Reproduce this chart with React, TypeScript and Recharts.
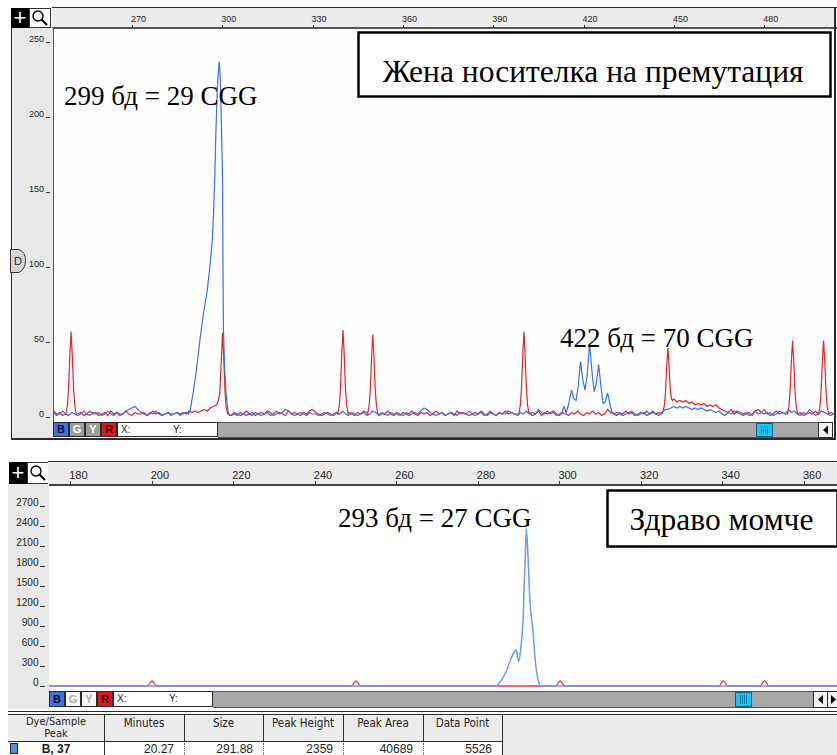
import { LineChart, Line, XAxis, YAxis } from 'recharts';

type Reading = [number, number]; // [size in bp, height in RFU]
type Point = { size: number; rfu: number };

// ---- upper run: carrier of a premutation ----
const upperFirstBp = 244; // baseline arrays hold one reading per bp from here
const upperRuler = [270, 300, 330, 360, 390, 420, 450, 480];
const upperHeights = [0, 50, 100, 150, 200, 250];

const upperBlueNoise = [
  3, 1, 2, 4, 2, 1, 3, 2, 1, 2,
  4, 2, 1, 3, 2, 3, 1, 2, 4, 2,
  1, 3, 2, 2, 4, 5, 6, 7, 5, 3,
  2, 1, 3, 2, 4, 2, 1, 2, 3, 1,
  2, 3, 1, 2, 3, 2, 2, 2, 2, 2,
  2, 2, 2, 2, 2, 2, 2, 2, 2, 1,
  2, 1, 3, 2, 1, 2, 1, 3, 2, 1,
  2, 3, 1, 2, 4, 2, 3, 5, 4, 2,
  1, 2, 3, 2, 1, 3, 2, 2, 1, 2,
  3, 2, 1, 2, 3, 2, 4, 2, 1, 3,
  2, 1, 2, 3, 1, 2, 4, 3, 1, 2,
  2, 1, 3, 2, 2, 1, 3, 2, 1, 2,
  3, 2, 4, 6, 5, 3, 2, 1, 2, 3,
  1, 2, 3, 2, 1, 3, 2, 2, 4, 2,
  1, 2, 3, 1, 2, 4, 2, 1, 3, 2,
  2, 4, 3, 2, 1, 3, 2, 4, 2, 3,
  2, 5, 3, 2, 4, 2, 3, 1, 2, 2,
  2, 2, 2, 2, 2, 2, 2, 2, 2, 2,
  2, 2, 2, 2, 2, 2, 2, 3, 2, 1,
  2, 3, 4, 2, 1, 2, 3, 1, 2, 4,
  2, 1, 3, 5, 5, 6, 7, 6, 7, 6,
  7, 6, 5, 6, 5, 6, 5, 4, 5, 4,
  3, 4, 2, 1, 3, 2, 4, 3, 2, 1,
  2, 3, 1, 4, 2, 3, 5, 2, 3, 1,
  2, 4, 3, 2, 5, 3, 4, 2, 1, 3,
  2, 5, 3, 1, 2, 4, 3, 2, 1, 2,
];

const upperRedNoise = [
  4, 2, 3, 1, 2, 2, 2, 2, 2, 3,
  1, 2, 4, 2, 3, 1, 2, 3, 1, 4,
  2, 3, 1, 2, 4, 2, 1, 3, 2, 2,
  3, 1, 2, 4, 2, 3, 1, 2, 3, 2,
  2, 3, 2, 3, 2, 4, 3, 4, 3, 4,
  5, 4, 6, 7, 2, 2, 2, 2, 2, 1,
  3, 2, 1, 2, 4, 2, 3, 1, 2, 3,
  2, 4, 3, 1, 2, 3, 2, 1, 4, 2,
  3, 2, 1, 3, 2, 4, 5, 3, 2, 1,
  2, 3, 2, 1, 3, 2, 2, 2, 3, 2,
  1, 3, 2, 4, 3, 2, 2, 2, 1, 3,
  2, 4, 2, 1, 3, 2, 1, 3, 2, 4,
  2, 1, 3, 2, 3, 1, 2, 4, 2, 3,
  1, 2, 3, 1, 4, 2, 3, 2, 1, 2,
  3, 2, 4, 2, 1, 3, 2, 1, 3, 2,
  4, 2, 3, 2, 2, 2, 2, 2, 3, 1,
  2, 4, 1, 3, 2, 3, 4, 2, 1, 3,
  2, 1, 3, 2, 4, 2, 1, 3, 2, 4,
  2, 3, 1, 2, 5, 3, 2, 1, 3, 2,
  4, 2, 3, 1, 2, 3, 2, 4, 2, 3,
  2, 3, 2, 2, 2, 11, 12, 10, 11, 10,
  11, 9, 10, 8, 9, 8, 9, 7, 8, 7,
  8, 6, 5, 4, 3, 5, 2, 4, 3, 2,
  3, 1, 2, 4, 5, 3, 2, 3, 1, 2,
  4, 2, 3, 2, 2, 2, 2, 2, 3, 1,
  2, 3, 2, 4, 2, 2, 2, 2, 3, 2,
];

// 299 bp allele (29 CGG)
const upperBlue299: Reading[] = [
  [288.8, 2], [289.4, 5], [290.4, 17], [291.2, 28], [291.7, 36], [292.7, 53], [293.7, 68],
  [295.0, 84], [296.0, 102], [296.7, 118], [297.1, 135], [297.5, 158], [297.9, 190],
  [298.4, 220], [298.8, 232], [299.0, 237], [299.3, 228], [299.7, 198], [300.1, 160],
  [300.25, 100], [300.4, 58], [300.8, 32], [301.3, 15], [301.9, 4], [302.4, 1],
];

// 422 bp allele (70 CGG), stutter every 3 bp
const upperBlue422: Reading[] = [
  [412.0, 2], [412.8, 3], [413.5, 7], [414.2, 3], [415.0, 8], [416.0, 18], [416.8, 12],
  [417.5, 11], [418.2, 20], [419.0, 37], [419.8, 24], [420.5, 18], [421.2, 28], [422.0, 49],
  [422.8, 30], [423.5, 17], [424.2, 22], [425.0, 35], [425.8, 20], [426.5, 9], [427.2, 10],
  [428.0, 16], [428.8, 8], [429.5, 3], [430.3, 2],
];

// ROX size standard
const upperRed250: Reading[] = [
  [248.1, 2], [248.6, 8], [249.0, 20], [249.4, 41], [249.8, 57], [250.2, 41], [250.6, 20], [251.0, 8], [251.5, 2],
];
const upperRed300: Reading[] = [
  [298.0, 8], [298.6, 10], [299.2, 16], [299.7, 38], [300.1, 56], [300.5, 40], [300.9, 18], [301.3, 7], [301.8, 2],
];
const upperRed340: Reading[] = [
  [338.4, 2], [338.9, 8], [339.3, 20], [339.7, 42], [340.1, 58], [340.5, 42], [340.9, 20], [341.3, 8], [341.8, 2],
];
const upperRed350: Reading[] = [
  [348.3, 2], [348.8, 8], [349.2, 19], [349.6, 40], [350.0, 55], [350.4, 40], [350.8, 19], [351.2, 8], [351.7, 2],
];
const upperRed400: Reading[] = [
  [398.5, 2], [399.0, 8], [399.4, 20], [399.8, 41], [400.2, 57], [400.6, 41], [401.0, 20], [401.4, 8], [401.9, 2],
];
const upperRed450: Reading[] = [
  [446.3, 3], [446.8, 7], [447.2, 16], [447.6, 33], [448.0, 46], [448.4, 34], [448.8, 18], [449.2, 12], [449.6, 11],
];
const upperRed490: Reading[] = [
  [487.7, 2], [488.2, 7], [488.6, 18], [489.0, 37], [489.4, 51], [489.8, 37], [490.2, 18], [490.6, 7], [491.1, 2],
];
const upperRed500: Reading[] = [
  [498.0, 2], [498.5, 7], [498.9, 18], [499.3, 37], [499.7, 51], [500.1, 37], [500.5, 18], [500.9, 7], [501.4, 2],
];

// ---- lower run: healthy boy ----
const lowerRuler = [180, 200, 220, 240, 260, 280, 300, 320, 340, 360];
const lowerHeights = [0, 300, 600, 900, 1200, 1500, 1800, 2100, 2400, 2700];
const lowerPeakSize = 291.88;
const lowerPeakHeight = 2359;

const lowerBlue: Reading[] = [
  [174.8, 0], [284.2, 0], [285.5, 65], [287.1, 240], [288.3, 435], [289.4, 540], [290.0, 365],
  [290.5, 540], [290.8, 740], [291.2, 1140], [291.35, 1490], [291.6, 1850],
  [lowerPeakSize, lowerPeakHeight], [292.3, 1950], [292.6, 1490], [292.8, 1245], [293.5, 840],
  [294.0, 435], [294.8, 90], [295.4, 0], [368.1, 0],
];

const lowerRed: Reading[] = [
  [174.8, 0], [199.1, 0], [199.5, 45], [200.05, 75], [200.6, 45], [201.0, 0],
  [249.1, 0], [249.6, 45], [250.1, 75], [250.6, 45], [251.1, 0],
  [299.2, 0], [299.7, 45], [300.2, 75], [300.7, 45], [301.2, 0],
  [339.2, 0], [339.7, 45], [340.2, 75], [340.7, 45], [341.2, 0],
  [349.3, 0], [349.8, 45], [350.3, 75], [350.8, 45], [351.3, 0], [368.1, 0],
];

const tableHeads = ['Minutes', 'Size', 'Peak Height', 'Peak Area', 'Data Point'];
const tableRow = ['20.27', String(lowerPeakSize), String(lowerPeakHeight), '40689', '5526'];
const tableSample = 'B, 37';

function buildTrace(firstBp: number, noise: number[], peaks: Reading[][]): Point[] {
  const spans = peaks.map((p) => [p[0][0], p[p.length - 1][0]]);
  const pts: Point[] = [];
  noise.forEach((rfu, i) => {
    const size = firstBp + i;
    if (!spans.some(([a, b]) => size >= a && size <= b)) pts.push({ size, rfu });
  });
  peaks.forEach((p) => p.forEach(([size, rfu]) => pts.push({ size, rfu })));
  return pts.sort((a, b) => a.size - b.size);
}

const toPoints = (r: Reading[]): Point[] => r.map(([size, rfu]) => ({ size, rfu }));

const upperBlue = buildTrace(upperFirstBp, upperBlueNoise, [upperBlue299, upperBlue422]);
const upperRed = buildTrace(upperFirstBp, upperRedNoise, [
  upperRed250, upperRed300, upperRed340, upperRed350, upperRed400, upperRed450, upperRed490, upperRed500,
]);

const uiFont = '"Liberation Sans", Arial, sans-serif';
const narrowFont = '"Liberation Sans Narrow", "DejaVu Sans Condensed", "Liberation Sans", sans-serif';
const serif = '"Liberation Serif", "Times New Roman", serif';
const frame = '#2b2b2b';
const panelGray = '#ececec';

const rulerTick = (labelY: number, m1: number, m2: number, fontSize: number) => (props: any) => {
  const { x, payload } = props;
  const px = Math.round(x) + 0.5;
  return (
    <g>
      <line x1={px} x2={px} y1={m1} y2={m2} stroke="#333" strokeWidth={1} />
      <text x={x - 1} y={labelY} fontSize={fontSize} fill="#222" fontFamily={uiFont}>
        {payload.value}
      </text>
    </g>
  );
};

const heightTick = (textRight: number, m1: number, m2: number, fontSize: number) => (props: any) => {
  const { y, payload } = props;
  return (
    <g>
      <text x={textRight} y={y} textAnchor="end" fontSize={fontSize} fill="#222" fontFamily={uiFont}>
        {payload.value}
      </text>
      <line x1={m1} x2={m2} y1={y + 0.5} y2={y + 0.5} stroke="#333" strokeWidth={1} />
    </g>
  );
};

function Box({ l, t, w, h, style }: { l: number; t: number; w: number; h: number; style?: any }) {
  return <div style={{ position: 'absolute', left: l, top: t, width: w, height: h, boxSizing: 'border-box', ...style }} />;
}

function ToolIcons({ l, t, h }: { l: number; t: number; h: number }) {
  return (
    <>
      <div
        style={{
          position: 'absolute', left: l, top: t, width: 18, height: h, background: '#000', color: '#fff',
          fontFamily: uiFont, fontSize: 22, lineHeight: `${h}px`, textAlign: 'center', fontWeight: 300,
        }}
      >
        +
      </div>
      <svg style={{ position: 'absolute', left: l + 18, top: t }} width={22} height={h}>
        <rect x={0.5} y={0.5} width={21} height={h - 1} fill="#fff" stroke="#333" />
        <circle cx={9} cy={h / 2 - 2} r={5} fill="none" stroke="#000" strokeWidth={1.4} />
        <line x1={12.5} y1={h / 2 + 1.5} x2={18} y2={h / 2 + 7} stroke="#000" strokeWidth={2} />
      </svg>
    </>
  );
}

function StatusBar(props: {
  l: number; t: number; h: number; field: number; scrollEnd: number; thumb: number; light: boolean; both: boolean;
}) {
  const { l, t, h, field, scrollEnd, thumb, light, both } = props;
  const btn = (label: string, i: number, bg: string, fg: string) => (
    <div
      key={label}
      style={{
        position: 'absolute', left: l + i * 16, top: t, width: 16, height: h, background: bg, color: fg,
        border: `1px solid ${frame}`, boxSizing: 'border-box', fontFamily: uiFont, fontWeight: 700,
        fontSize: 11, lineHeight: `${h - 2}px`, textAlign: 'center',
      }}
    >
      {label}
    </div>
  );
  const fieldL = l + 64;
  return (
    <>
      {btn('B', 0, '#3c74e4', '#0b0b30')}
      {btn('G', 1, light ? '#f6f6f6' : '#9d9d9d', light ? '#b0b0b0' : '#fff')}
      {btn('Y', 2, light ? '#f6f6f6' : '#9d9d9d', light ? '#b0b0b0' : '#fff')}
      {btn('R', 3, '#e8141b', '#111')}
      <div
        style={{
          position: 'absolute', left: fieldL, top: t, width: field, height: h, background: '#fff',
          border: `1px solid ${frame}`, boxSizing: 'border-box', fontFamily: uiFont, fontSize: 10,
          lineHeight: `${h - 2}px`, color: '#222',
        }}
      >
        <span style={{ position: 'absolute', left: 3 }}>X:</span>
        <span style={{ position: 'absolute', left: 55 }}>Y:</span>
      </div>
      <Box
        l={fieldL + field}
        t={t}
        w={scrollEnd - fieldL - field}
        h={h + 1}
        style={{ background: '#a8a8a8', borderTop: `1px solid #555`, borderBottom: `1px solid #555` }}
      />
      <svg style={{ position: 'absolute', left: thumb, top: t + 1 }} width={17} height={h - 1}>
        <rect x={0.5} y={0.5} width={16} height={h - 2} fill="#22c3ef" stroke="#0f5e7a" />
        {[5, 7, 9, 11].map((x) => (
          <line key={x} x1={x + 0.5} x2={x + 0.5} y1={3} y2={h - 4} stroke="#0f7fa5" />
        ))}
      </svg>
      <svg style={{ position: 'absolute', left: scrollEnd, top: t }} width={both ? 24 : 15} height={h + 1}>
        <rect x={0.5} y={0.5} width={14} height={h} fill="#f2f2f2" stroke={frame} />
        <polygon points={`5,${h / 2 + 0.5} 10,${h / 2 - 4} 10,${h / 2 + 5}`} fill="#000" />
        {both && <rect x={14.5} y={0.5} width={12} height={h} fill="#f2f2f2" stroke={frame} />}
        {both && <polygon points={`23,${h / 2 + 0.5} 18,${h / 2 - 4} 18,${h / 2 + 5}`} fill="#000" />}
      </svg>
    </>
  );
}

function UpperPanel() {
  return (
    <>
      <ToolIcons l={11} t={8} h={20} />
      <Box l={52} t={7} w={785} h={22} style={{ background: panelGray, borderTop: `1px solid ${frame}`, borderBottom: `2px solid #555` }} />
      <Box l={11} t={28} w={42} h={412} style={{ background: '#e8e8e8', borderLeft: `1px solid ${frame}` }} />
      <Box l={53} t={29} w={781} h={393} style={{ background: '#fefefe', borderLeft: '1px solid #555' }} />
      <Box l={834} t={7} w={2} h={433} style={{ background: frame }} />
      <Box l={11} t={438} w={825} h={2} style={{ background: frame }} />
      <div style={{ position: 'absolute', left: 0, top: 0 }}>
        <LineChart width={837} height={421} margin={{ top: 9, right: 2, bottom: 0, left: 12 }}>
          <XAxis
            type="number"
            dataKey="size"
            orientation="top"
            domain={[243.8, 503.5]}
            ticks={upperRuler}
            interval={0}
            height={20}
            axisLine={false}
            tickLine={false}
            allowDataOverflow
            tick={rulerTick(21.5, 25, 28, 9)}
          />
          <YAxis
            type="number"
            dataKey="rfu"
            domain={[-2.67, 258.67]}
            ticks={upperHeights}
            interval={0}
            width={41}
            axisLine={false}
            tickLine={false}
            allowDataOverflow
            tick={heightTick(44, 46, 50, 9)}
          />
          <Line data={upperRed} dataKey="rfu" type="linear" stroke="#e4232b" strokeWidth={1.2} dot={false} activeDot={false} isAnimationActive={false} />
          <Line data={upperBlue} dataKey="rfu" type="linear" stroke="#3b6fe3" strokeWidth={1.2} dot={false} activeDot={false} isAnimationActive={false} />
        </LineChart>
      </div>
      <StatusBar l={53} t={422} h={15} field={101} scrollEnd={818} thumb={756} light={false} both={false} />
    </>
  );
}

function LowerPanel() {
  return (
    <>
      <ToolIcons l={9} t={462} h={22} />
      <Box l={48} t={461} w={789} h={25} style={{ background: panelGray, borderTop: `1px solid ${frame}`, borderBottom: `2px solid #444` }} />
      <Box l={8} t={484} w={41} h={225} style={{ background: '#e9e9e9' }} />
      <Box l={49} t={486} w={788} h={204} style={{ background: '#fff' }} />
      <div style={{ position: 'absolute', left: 0, top: 460 }}>
        <LineChart width={837} height={229} margin={{ top: 6, right: 0, bottom: 0, left: 8 }}>
          <XAxis
            type="number"
            dataKey="size"
            orientation="top"
            domain={[174.8, 368.1]}
            ticks={lowerRuler}
            interval={0}
            height={20}
            axisLine={false}
            tickLine={false}
            allowDataOverflow
            tick={rulerTick(18.5, 21, 24, 11)}
          />
          <YAxis
            type="number"
            dataKey="rfu"
            domain={[-45, 3000]}
            ticks={lowerHeights}
            interval={0}
            width={41}
            axisLine={false}
            tickLine={false}
            allowDataOverflow
            tick={heightTick(38.5, 40, 45, 10)}
          />
          <Line data={toPoints(lowerRed)} dataKey="rfu" type="monotone" stroke="#f2383c" strokeWidth={1.3} dot={false} activeDot={false} isAnimationActive={false} />
          <Line data={toPoints(lowerBlue)} dataKey="rfu" type="monotone" stroke="#6a9af2" strokeWidth={1.5} dot={false} activeDot={false} isAnimationActive={false} />
        </LineChart>
      </div>
      <StatusBar l={49} t={691} h={16} field={100} scrollEnd={813} thumb={735} light both />
    </>
  );
}

function PeakTable() {
  const cols = [104, 184, 263, 343, 423, 502];
  const cell = (l: number, r: number) => ({ position: 'absolute' as const, left: l, width: r - l, top: 0 });
  return (
    <div style={{ position: 'absolute', left: 8, top: 710, width: 829, height: 45, fontFamily: narrowFont, color: '#222' }}>
      <Box l={0} t={1} w={829} h={4} style={{ borderTop: `1px solid ${frame}`, borderBottom: `1px solid ${frame}` }} />
      <Box l={0} t={5} w={494} h={27} style={{ background: panelGray, borderBottom: `1px solid ${frame}` }} />
      <Box l={494} t={5} w={335} h={40} style={{ background: panelGray }} />
      <div style={{ ...cell(0, cols[0] - 8), top: 6, textAlign: 'center', fontSize: 11, lineHeight: '12px' }}>
        <div>Dye/Sample</div>
        <div>Peak</div>
      </div>
      {tableHeads.map((h, i) => (
        <div key={h} style={{ ...cell(cols[i] - 8, cols[i + 1] - 8), top: 7, textAlign: 'center', fontSize: 11.5, lineHeight: '12px' }}>
          {h}
        </div>
      ))}
      {cols.slice(0, 5).map((c) => (
        <Box key={c} l={c - 8} t={5} w={1} h={27} style={{ background: frame }} />
      ))}
      <Box l={cols[5] - 8} t={5} w={1} h={40} style={{ background: frame }} />
      <Box l={cols[0] - 8} t={32} w={1} h={13} style={{ background: frame }} />
      {cols.slice(1, 5).map((c) => (
        <Box key={`d${c}`} l={c - 8} t={33} w={1} h={12} style={{ borderLeft: '1px dotted #666' }} />
      ))}
      <Box l={2} t={33} w={8} h={11} style={{ background: '#4d8cf0', border: '1px solid #223' }} />
      <div style={{ ...cell(0, cols[0] - 8), top: 32, textAlign: 'center', fontFamily: uiFont, fontWeight: 700, fontSize: 12, lineHeight: '14px' }}>
        {tableSample}
      </div>
      {tableRow.map((v, i) => (
        <div
          key={i}
          style={{
            ...cell(cols[i] - 8, cols[i + 1] - 8), top: 32, textAlign: 'right', paddingRight: 10,
            boxSizing: 'border-box', fontFamily: uiFont, fontSize: 12, lineHeight: '14px',
          }}
        >
          {v}
        </div>
      ))}
    </div>
  );
}

function Annotations() {
  return (
    <svg style={{ position: 'absolute', left: 0, top: 0, pointerEvents: 'none' }} width={837} height={755}>
      <path d="M10.5,249.5 H19 Q25.5,252 25.5,260.5 Q25.5,269 19,272.5 H10.5 Z" fill="#d6d6d6" stroke="#333" />
      <text x={14} y={265} fontSize={11} fontFamily={uiFont} fill="#222">D</text>

      <rect x={358.5} y={32.5} width={472} height={64} fill="#fff" stroke="#000" strokeWidth={2.5} />
      <text x={593} y={82} textAnchor="middle" fontSize={31.5} fontFamily={serif} fill="#000">
        Жена носителка на премутация
      </text>
      <text x={64} y={105} fontSize={27} fontFamily={serif} fill="#000">299 бд = 29 CGG</text>
      <text x={560} y={347} fontSize={27} fontFamily={serif} fill="#000">422 бд = 70 CGG</text>

      <rect x={607.5} y={490.5} width={230} height={56} fill="#fff" stroke="#000" strokeWidth={2.5} />
      <text x={721.5} y={530} textAnchor="middle" fontSize={31.5} fontFamily={serif} fill="#000">
        Здраво момче
      </text>
      <text x={338} y={527} fontSize={27} fontFamily={serif} fill="#000">293 бд = 27 CGG</text>
    </svg>
  );
}

export default function App() {
  return (
    <div style={{ position: 'absolute', left: 0, top: 0, width: 837, height: 755, background: '#fff', overflow: 'hidden', fontFamily: uiFont }}>
      <UpperPanel />
      <LowerPanel />
      <PeakTable />
      <Annotations />
    </div>
  );
}
